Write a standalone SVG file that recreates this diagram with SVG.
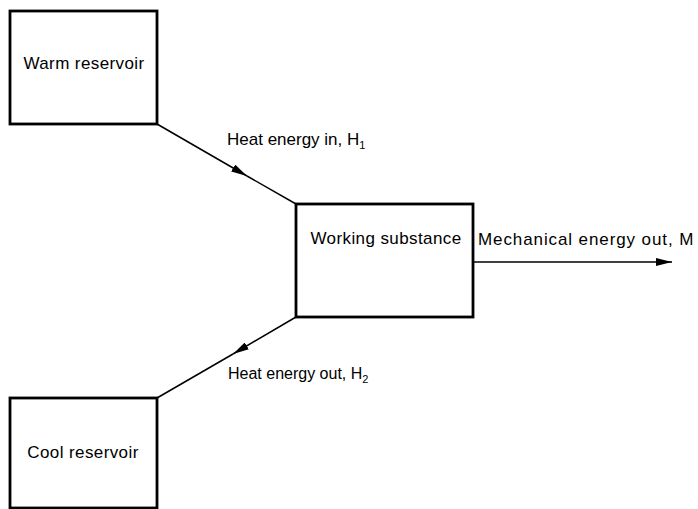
<svg xmlns="http://www.w3.org/2000/svg" width="698" height="509" viewBox="0 0 698 509">
  <defs>
    <style>
      .box { fill: #fff; stroke: #000; stroke-width: 2.8; }
      .label { font-family: "Liberation Sans", Arial, sans-serif; font-size: 17px; letter-spacing: 0.4px; fill: #000; }
      .sub { font-size: 11px; }
      .wire { stroke: #000; stroke-width: 1.5; fill: none; }
    </style>
    <marker id="arrow" viewBox="0 0 16 8" refX="16" refY="4" markerWidth="16" markerHeight="8" markerUnits="userSpaceOnUse" orient="auto">
      <path d="M0,0 L16,4 L0,8 Z" fill="#000"/>
    </marker>
  </defs>
  <rect width="698" height="509" fill="#fff"/>

  <!-- connectors -->
  <g id="connectors">
    <line class="wire" x1="157" y1="124" x2="247" y2="176" marker-end="url(#arrow)"/>
    <line class="wire" x1="247" y1="176" x2="296" y2="204"/>
    <line class="wire" x1="296" y1="317" x2="233" y2="354" marker-end="url(#arrow)"/>
    <line class="wire" x1="233" y1="354" x2="157" y2="398"/>
    <line class="wire" x1="473" y1="262" x2="672" y2="262" marker-end="url(#arrow)"/>
    <text class="label" x="227" y="145" style="letter-spacing:0">Heat energy in, H<tspan class="sub" dy="4">1</tspan></text>
    <text class="label" x="228" y="379" style="font-size:16px;letter-spacing:0">Heat energy out, H<tspan class="sub" dy="4">2</tspan></text>
    <text class="label" x="478" y="245" style="letter-spacing:0.9px">Mechanical energy out, M</text>
  </g>

  <g id="warm-reservoir">
    <rect class="box" x="10" y="11" width="147" height="113"/>
    <text class="label" x="84" y="69" text-anchor="middle">Warm reservoir</text>
  </g>

  <g id="working-substance">
    <rect class="box" x="296" y="204" width="177" height="113"/>
    <text class="label" x="386" y="244" text-anchor="middle">Working substance</text>
  </g>

  <g id="cool-reservoir">
    <rect class="box" x="10" y="398" width="147" height="110"/>
    <text class="label" x="83" y="458" text-anchor="middle">Cool reservoir</text>
  </g>
</svg>
